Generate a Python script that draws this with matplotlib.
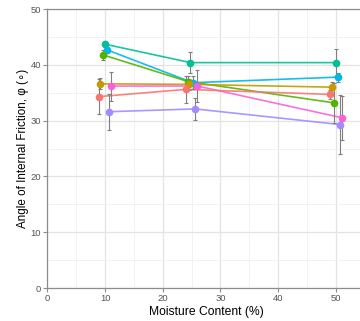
import matplotlib
matplotlib.use("Agg")
import matplotlib.pyplot as plt
from matplotlib.ticker import MultipleLocator

plt.rcParams['font.family'] = ['Liberation Sans', 'DejaVu Sans']

# series (x is slightly dodged per series)
series_colors = ["#00C094", "#00B6EB", "#53B400", "#C49A00", "#FB61D7", "#F8766D", "#A58AFF"]

green_x = [10.0, 24.8, 50.0]
green_y = [43.7, 40.4, 40.4]
green_err = [0.5, 1.9, 2.4]

cyan_x = [10.3, 25.2, 50.4]
cyan_y = [42.7, 36.8, 37.8]
cyan_err = [0.5, 1.2, 0.8]

olive_x = [9.6, 24.4, 49.6]
olive_y = [41.8, 37.0, 33.2]
olive_err = [0.9, 1.0, 3.6]

gold_x = [9.2, 24.5, 49.3]
gold_y = [36.6, 36.5, 36.0]
gold_err = [1.0, 1.0, 1.0]

pink_x = [11.0, 26.0, 51.1]
pink_y = [36.2, 36.2, 30.5]
pink_err = [2.6, 2.8, 4.0]

salmon_x = [8.9, 24.0, 48.95]
salmon_y = [34.3, 35.6, 34.7]
salmon_err = [3.2, 2.4, 0.8]

purple_x = [10.7, 25.6, 50.7]
purple_y = [31.6, 32.1, 29.3]
purple_err = [3.2, 2.0, 5.3]

xs = [green_x, cyan_x, olive_x, gold_x, pink_x, salmon_x, purple_x]
ys = [green_y, cyan_y, olive_y, gold_y, pink_y, salmon_y, purple_y]
errs = [green_err, cyan_err, olive_err, gold_err, pink_err, salmon_err, purple_err]


def main():
    fig = plt.figure(figsize=(3.6, 3.21), dpi=100)
    ax = fig.add_axes([0.1314, 0.1028, 0.882, 0.869])

    for x, y, c in zip(xs, ys, series_colors):
        ax.plot(x, y, color=c, lw=1.2, alpha=0.9, zorder=3)
    for x, y, e in zip(xs, ys, errs):
        ax.errorbar(x, y, yerr=e, fmt="none", ecolor="#7F7F7F", elinewidth=0.8,
                    capsize=1.4, capthick=0.8, zorder=4)
    for x, y, c in zip(xs, ys, series_colors):
        ax.plot(x, y, "o", color=c, ms=5.5, mew=0, zorder=5)

    ax.set_xlim(0, 55)
    ax.set_ylim(0, 50)
    ax.xaxis.set_major_locator(MultipleLocator(10))
    ax.yaxis.set_major_locator(MultipleLocator(10))
    ax.xaxis.set_minor_locator(MultipleLocator(5))
    ax.yaxis.set_minor_locator(MultipleLocator(5))
    ax.grid(which="major", color="#E3E3E3", lw=0.9)
    ax.grid(which="minor", color="#F0F0F0", lw=0.6)
    ax.set_axisbelow(True)
    for s in ax.spines.values():
        s.set_color("#8C8C8C")
        s.set_linewidth(0.9)
    ax.tick_params(which="major", length=3, width=0.8, color="#8C8C8C",
                   labelsize=6.8, labelcolor="#555555", pad=1.5)
    ax.tick_params(which="minor", length=0)

    ax.set_xlabel("Moisture Content (%)", fontsize=8.7, labelpad=2)
    ax.set_ylabel("Angle of Internal Friction, φ (∘)", fontsize=8.4, labelpad=1)

    fig.savefig("out.png", dpi=100)


if __name__ == "__main__":
    main()
